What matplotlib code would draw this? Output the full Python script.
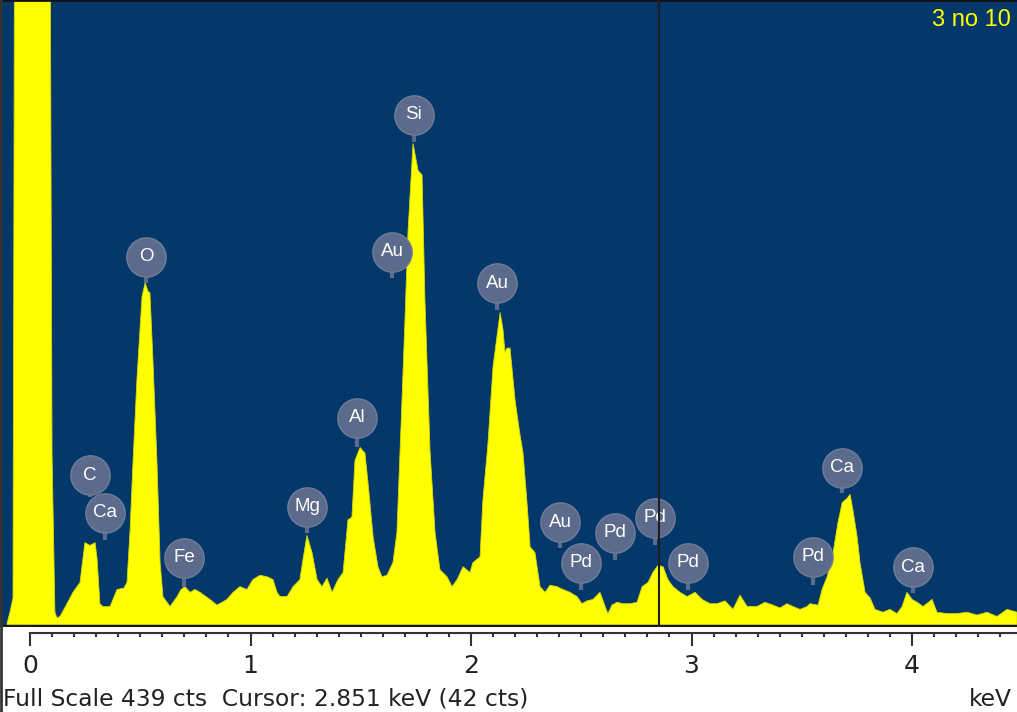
import matplotlib
matplotlib.use("Agg")
import matplotlib.pyplot as plt
import numpy as np

# ---- spectrum data (keV, counts) ----
energy_kev = [-0.104, -0.091, -0.077, -0.064, 0.009, 0.082, 0.100, 0.113, 0.122, 0.136,
              0.168, 0.195, 0.227, 0.249, 0.272, 0.295, 0.304, 0.317, 0.331, 0.363,
              0.395, 0.426, 0.440, 0.454, 0.467, 0.485, 0.508, 0.522, 0.535, 0.544,
              0.558, 0.576, 0.590, 0.603, 0.635, 0.667, 0.685, 0.703, 0.726, 0.748,
              0.771, 0.816, 0.848, 0.871, 0.893, 0.921, 0.952, 0.984, 1.011, 1.043,
              1.075, 1.102, 1.120, 1.134, 1.166, 1.193, 1.224, 1.238, 1.256, 1.279,
              1.302, 1.324, 1.347, 1.370, 1.397, 1.420, 1.442, 1.460, 1.474, 1.497,
              1.519, 1.533, 1.556, 1.578, 1.596, 1.619, 1.646, 1.664, 1.687, 1.701,
              1.714, 1.737, 1.760, 1.778, 1.791, 1.814, 1.837, 1.859, 1.891, 1.914,
              1.937, 1.964, 1.995, 2.009, 2.041, 2.054, 2.077, 2.100, 2.132, 2.145,
              2.154, 2.163, 2.177, 2.200, 2.222, 2.236, 2.254, 2.268, 2.290, 2.313,
              2.336, 2.358, 2.390, 2.417, 2.449, 2.481, 2.503, 2.526, 2.553, 2.585,
              2.608, 2.621, 2.639, 2.662, 2.689, 2.721, 2.753, 2.776, 2.803, 2.825,
              2.848, 2.871, 2.893, 2.916, 2.948, 2.980, 3.016, 3.048, 3.084, 3.116,
              3.152, 3.188, 3.220, 3.252, 3.297, 3.333, 3.370, 3.401, 3.433, 3.460,
              3.492, 3.524, 3.537, 3.574, 3.592, 3.615, 3.642, 3.664, 3.683, 3.696,
              3.705, 3.719, 3.732, 3.751, 3.764, 3.787, 3.810, 3.832, 3.868, 3.900,
              3.932, 3.955, 3.977, 4.000, 4.023, 4.050, 4.091, 4.113, 4.159, 4.204,
              4.249, 4.295, 4.340, 4.385, 4.431, 4.476]
counts = [1, 9, 19, 900, 2500, 900, 120, 9, 5, 6,
          15, 23, 30, 58, 56, 58, 47, 15, 13, 13,
          25, 26, 30, 67, 114, 173, 231, 241, 235, 234,
          185, 114, 44, 20, 13, 20, 25, 27, 23, 25,
          23, 18, 14, 16, 18, 23, 27, 25, 32, 35,
          34, 32, 23, 20, 20, 27, 32, 46, 63, 51,
          32, 27, 33, 23, 32, 37, 74, 76, 116, 125,
          121, 100, 62, 41, 34, 35, 44, 65, 158, 217,
          276, 339, 320, 317, 229, 123, 65, 39, 34, 27,
          32, 41, 37, 44, 48, 88, 128, 182, 220, 208,
          192, 195, 195, 158, 134, 121, 86, 55, 51, 27,
          23, 28, 27, 25, 23, 20, 15, 17, 18, 23,
          13, 8, 14, 16, 15, 15, 16, 27, 30, 37,
          42, 41, 32, 27, 23, 20, 23, 18, 15, 15,
          17, 11, 21, 13, 13, 16, 14, 12, 15, 13,
          11, 13, 15, 14, 25, 34, 51, 72, 86, 88,
          89, 92, 81, 62, 44, 23, 19, 11, 9, 11,
          8, 13, 23, 18, 16, 13, 18, 9, 8, 8,
          9, 7, 9, 6, 11, 9]

# ---- element labels (name, energy keV, bubble height cts, stem tip cts) ----
label_names = ["C", "Ca", "O", "Fe", "Mg", "Al", "Si", "Au", "Au", "Au",
               "Pd", "Pd", "Pd", "Pd", "Pd", "Ca", "Ca"]
label_kev = [0.272, 0.340, 0.526, 0.698, 1.256, 1.483, 1.741, 1.642, 2.118, 2.404,
             2.499, 2.653, 2.834, 2.984, 3.551, 3.683, 4.005]
label_cts = [105.6, 78.9, 259.2, 47.2, 83.1, 145.8, 359.2, 262.7, 240.8, 72.5,
             43.7, 64.8, 75.4, 43.7, 47.9, 110.6, 40.8]
stem_cts = [90.1, 59.9, 240.8, 26.8, 64.8, 125.4, 340.1, 244.4, 221.8, 54.2,
            24.6, 45.8, 56.3, 24.6, 28.2, 93.0, 22.5]

cursor_kev = 2.851
full_scale = 439
cursor_cts = 42
major_ticks = [0, 1, 2, 3, 4]

BG = "#05386a"
YEL = "#ffff00"
BUB = "#5c6b8b"

W, H = 1017, 712
fig = plt.figure(figsize=(W / 100, H / 100), dpi=100)
fig.patch.set_facecolor("white")

# main spectrum axes: from top (y=0) down to y=627 px
ax = fig.add_axes([0, (H - 627) / H, 1, 627 / H])
ax.set_facecolor(BG)
px_per_ct = 1.42
ax.set_xlim(-0.136, 4.476)
ax.set_ylim(-2 / px_per_ct, 625 / px_per_ct)
ax.fill_between(energy_kev, 0, counts, color=YEL, lw=0.6, ec="#d8d800", zorder=2)
ax.axhspan(-5, 0, color="#1a1a1a", zorder=3)
for s in ax.spines.values():
    s.set_visible(False)
ax.spines["top"].set_visible(True)
ax.spines["top"].set_color("#111111")
ax.spines["top"].set_linewidth(2)
ax.set_xticks([])
ax.set_yticks([])

# peak label bubbles
for name, xk, yc, ys in zip(label_names, label_kev, label_cts, stem_cts):
    ax.plot([xk, xk], [ys, yc], color=BUB, lw=3, solid_capstyle="butt", zorder=4)
    ax.scatter([xk], [yc], s=800, color=BUB, edgecolors="#6f7d99", linewidths=1, zorder=5)
    ax.text(xk, yc, name, color="white", ha="center", va="center",
            fontsize=13.5, family="Liberation Sans", zorder=6)

# cursor line
ax.axvline(cursor_kev, color="#1e1e1e", lw=1.5, zorder=7)

# top-right label
ax.text(1 - 6 / W, 1 - 20 / 627, "3 no 10", transform=ax.transAxes, color=YEL,
        fontsize=17, family="Liberation Sans", ha="right", va="center", zorder=8)

# ruler axis below
ax2 = fig.add_axes([0, (H - 633) / H, 1, 0.0005])
ax2.set_xlim(ax.get_xlim())
ax2.set_ylim(0, 1)
ax2.patch.set_visible(False)
for k in ["top", "left", "right"]:
    ax2.spines[k].set_visible(False)
ax2.spines["bottom"].set_color("#333333")
ax2.spines["bottom"].set_linewidth(1.5)
ax2.spines["bottom"].set_bounds(0, 4.476)
ax2.set_yticks([])
ax2.set_xticks(major_ticks)
ax2.set_xticklabels([str(t) for t in major_ticks], family="Liberation Sans Narrow",
                    fontsize=18, color="#222222")
ax2.set_xticks(np.arange(0, 4.5, 0.1), minor=True)
ax2.tick_params(axis="x", which="major", direction="out", length=9, width=1.5,
                color="#333333", pad=6)
ax2.tick_params(axis="x", which="minor", direction="out", length=3, width=1.5,
                color="#333333")

# status text at bottom
fig.text(3 / W, (H - 699) / H,
         f"Full Scale {full_scale} cts  Cursor: {cursor_kev:.3f} keV ({cursor_cts} cts)",
         family="Liberation Sans Narrow", fontsize=16.8, color="#222222",
         ha="left", va="center")
fig.text(1 - 5 / W, (H - 699) / H, "keV", family="Liberation Sans Narrow", fontsize=16.8,
         color="#222222", ha="right", va="center")

# left border
fig.add_artist(plt.Line2D([0.001, 0.001], [0, 1], color="#333333", lw=2,
                          transform=fig.transFigure))

fig.savefig("out.png", dpi=100, facecolor=fig.get_facecolor())
